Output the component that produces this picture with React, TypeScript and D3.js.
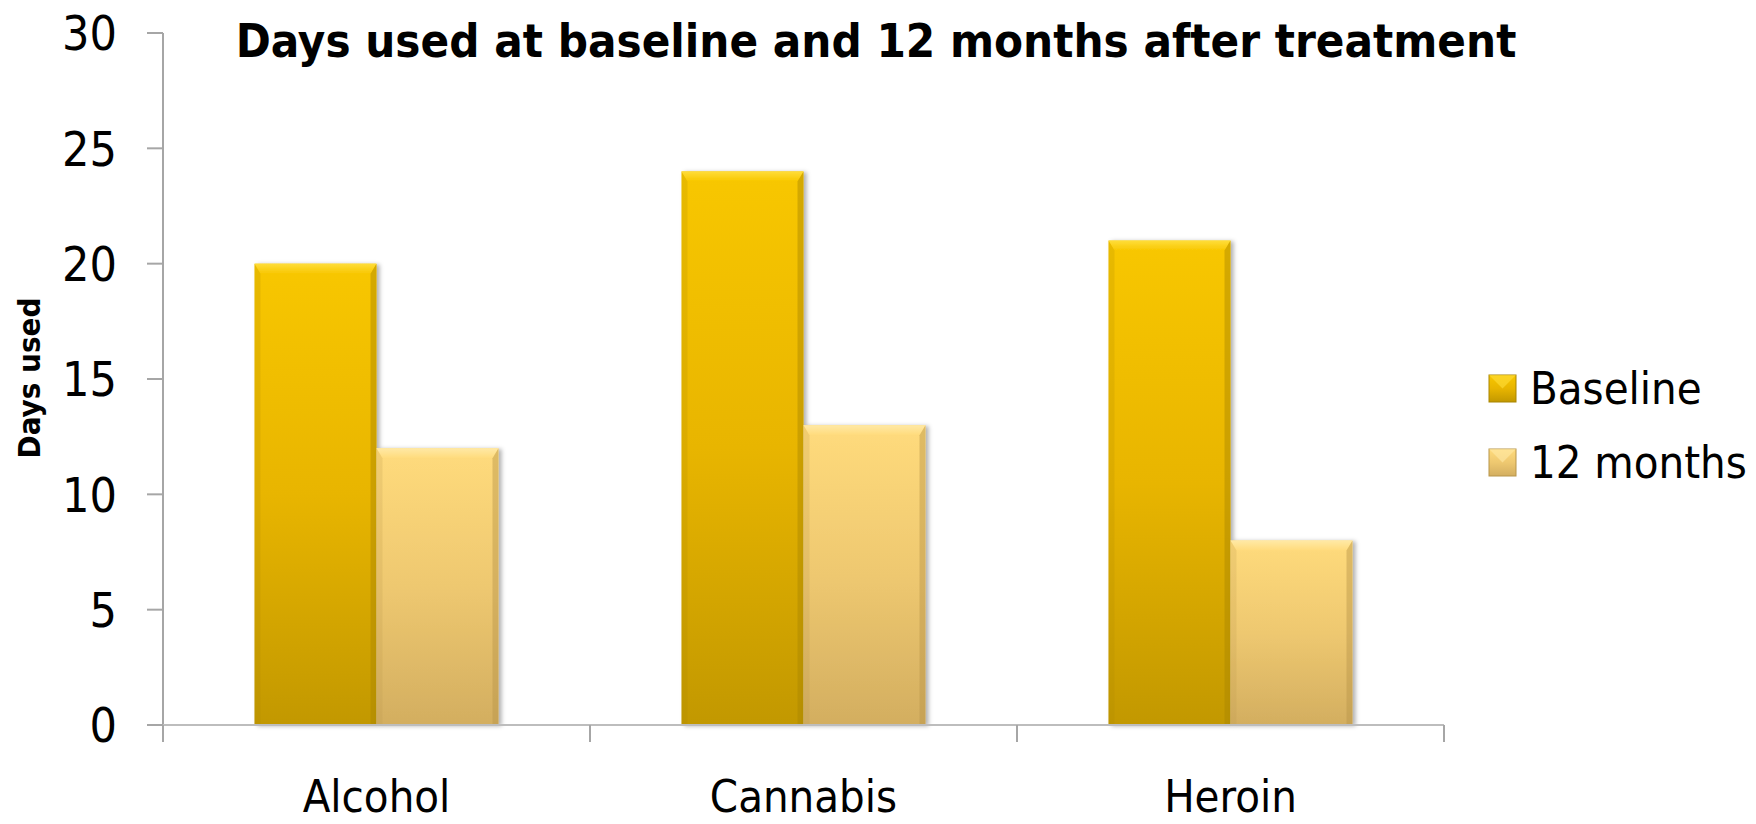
import React from 'react';
import * as d3 from 'd3';

const categories = ['Alcohol', 'Cannabis', 'Heroin'];
const seriesNames = ['Baseline', '12 months'];
const baselineValues = [20, 24, 21];
const twelveMonthValues = [12, 13, 8];
const yTicks = [0, 5, 10, 15, 20, 25, 30];
const chartTitle = 'Days used at baseline and 12 months after treatment';
const yAxisTitle = 'Days used';

const W = 1756;
const H = 824;
const M = { left: 163, right: 1444, top: 33, bottom: 725 };
const FONT = "'DejaVu Sans Condensed', 'DejaVu Sans', sans-serif";

const seriesStyle = [
  { id: 'base', top: '#F8C700', mid: '#E8B500', bottom: '#C29800', bevelTop: '#FFDD3A', side: '#A98500' },
  { id: 'm12', top: '#FFDB7C', mid: '#EEC870', bottom: '#D3AE60', bevelTop: '#FFE9A6', side: '#B8954A' },
];

export default function App() {
  const x = d3.scaleBand<string>().domain(categories).range([M.left, M.right]).paddingInner(0).paddingOuter(0);
  const xs = d3.scaleBand<string>().domain(seriesNames).range([0, x.bandwidth()]).paddingInner(0).paddingOuter(0.75);
  const y = d3.scaleLinear().domain([0, 30]).range([M.bottom, M.top]);
  const values = [baselineValues, twelveMonthValues];
  const bt = 10;
  const bs = 6;

  const bars: JSX.Element[] = [];
  categories.forEach((c, ci) => {
    seriesNames.forEach((s, si) => {
      const v = values[si][ci];
      const x0 = (x(c) as number) + (xs(s) as number);
      const x1 = x0 + xs.bandwidth();
      const y0 = y(v);
      const yb = y(0);
      const st = seriesStyle[si];
      bars.push(
        <g key={c + s} filter="url(#shadow)">
          <rect x={x0} y={y0} width={x1 - x0} height={yb - y0} fill={`url(#grad-${st.id})`} />
          <polygon
            points={`${x0},${y0} ${x1},${y0} ${x1 - bs},${y0 + bt} ${x0 + bs},${y0 + bt}`}
            fill={`url(#bevel-${st.id})`}
          />
          <polygon
            points={`${x1},${y0} ${x1},${yb} ${x1 - bs},${yb} ${x1 - bs},${y0 + bt}`}
            fill={st.side}
            opacity={0.45}
          />
          <polygon
            points={`${x0},${y0} ${x0 + bs},${y0 + bt} ${x0 + bs},${yb} ${x0},${yb}`}
            fill={st.side}
            opacity={0.2}
          />
        </g>
      );
    });
  });

  const legendY = [388, 462];

  return (
    <svg
      width={W}
      height={H}
      viewBox={`0 0 ${W} ${H}`}
      style={{ position: 'fixed', left: 0, top: 0, background: '#fff' }}
      fontFamily={FONT}
    >
      <defs>
        {seriesStyle.map((st) => (
          <linearGradient key={st.id} id={`grad-${st.id}`} x1="0" y1="0" x2="0" y2="1">
            <stop offset="0" stopColor={st.top} />
            <stop offset="0.5" stopColor={st.mid} />
            <stop offset="1" stopColor={st.bottom} />
          </linearGradient>
        ))}
        {seriesStyle.map((st) => (
          <linearGradient key={'b' + st.id} id={`bevel-${st.id}`} x1="0" y1="0" x2="0" y2="1">
            <stop offset="0" stopColor={st.bevelTop} />
            <stop offset="1" stopColor={st.top} />
          </linearGradient>
        ))}
        <filter id="shadow" x="-10%" y="-10%" width="130%" height="120%">
          <feDropShadow dx="3" dy="1" stdDeviation="2" floodColor="#000" floodOpacity="0.3" />
        </filter>
      </defs>

      <rect x={0} y={0} width={W} height={H} fill="#fff" />

      {/* bars */}
      {bars}

      {/* y axis */}
      <line x1={M.left} x2={M.left} y1={M.top} y2={M.bottom} stroke="#A6A6A6" strokeWidth={2} />
      {yTicks.map((t) => (
        <g key={t}>
          <line x1={M.left - 16} x2={M.left} y1={y(t)} y2={y(t)} stroke="#A6A6A6" strokeWidth={2} />
          <text x={117} y={y(t)} dy="0.36em" textAnchor="end" fontSize={48} fill="#000">
            {t}
          </text>
        </g>
      ))}

      {/* x axis */}
      <line x1={M.left} x2={M.right} y1={M.bottom} y2={M.bottom} stroke="#BDBDBD" strokeWidth={2} />
      {[...categories.map((c) => x(c) as number), M.right].map((px, i) => (
        <line key={i} x1={px} x2={px} y1={M.bottom} y2={M.bottom + 17} stroke="#A6A6A6" strokeWidth={2} />
      ))}
      {categories.map((c) => (
        <text key={c} x={(x(c) as number) + x.bandwidth() / 2} y={812} textAnchor="middle" fontSize={45} fill="#000">
          {c}
        </text>
      ))}

      {/* y axis title */}
      <text
        transform={`translate(40, 378) rotate(-90)`}
        textAnchor="middle"
        fontSize={31}
        fontWeight="bold"
        fill="#000"
      >
        {yAxisTitle}
      </text>

      {/* title */}
      <text x={876} y={57} textAnchor="middle" fontSize={47} fontWeight="bold" fill="#000">
        {chartTitle}
      </text>

      {/* legend */}
      {seriesNames.map((s, i) => {
        const st = seriesStyle[i];
        const sy = legendY[i] - 13;
        return (
          <g key={s}>
            <rect x={1489} y={sy} width={27} height={27} fill={`url(#grad-${st.id})`} stroke={st.side} strokeWidth={1} />
            <polygon points={`${1489},${sy} ${1516},${sy} ${1502.5},${sy + 13.5}`} fill={st.bevelTop} opacity={0.6} />
            <text x={1530} y={legendY[i]} dy="0.36em" fontSize={45} fill="#000">
              {s}
            </text>
          </g>
        );
      })}
    </svg>
  );
}
